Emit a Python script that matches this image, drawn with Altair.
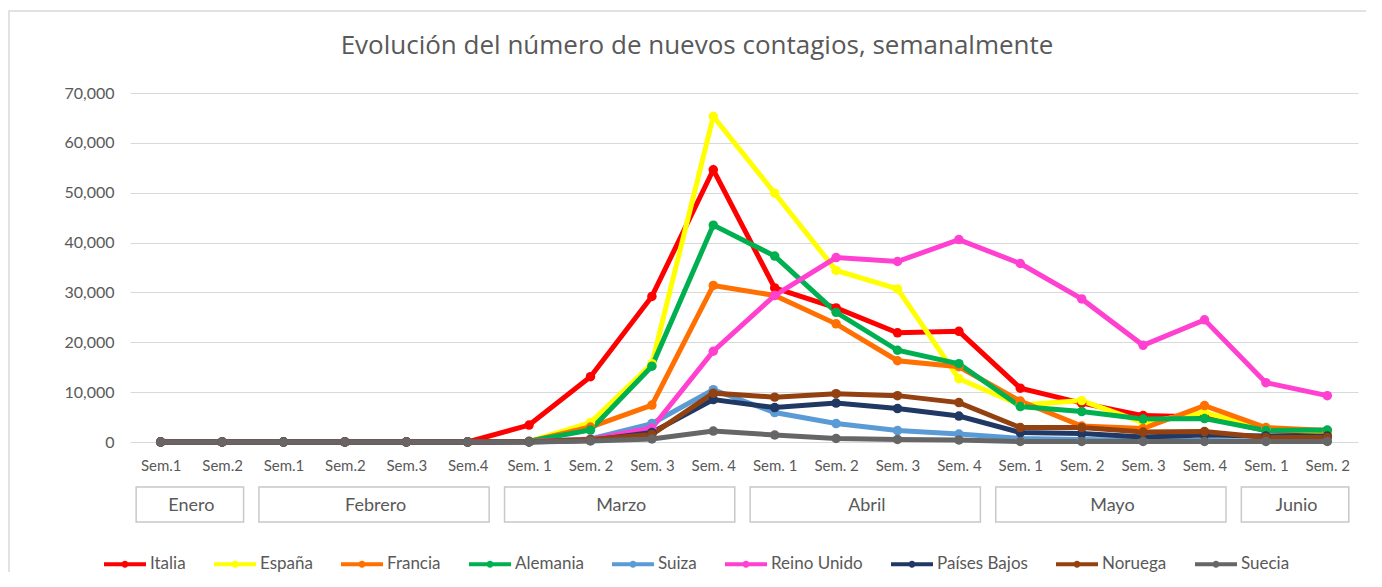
import json
import altair as alt
import pandas as pd

# ---------------- data ----------------
title_text = "Evolución del número de nuevos contagios, semanalmente"

week_labels = ["Sem.1", "Sem.2",
               "Sem.1", "Sem.2", "Sem.3", "Sem.4",
               "Sem. 1", "Sem. 2", "Sem. 3", "Sem. 4",
               "Sem. 1", "Sem. 2", "Sem. 3", "Sem. 4",
               "Sem. 1", "Sem. 2", "Sem. 3", "Sem. 4",
               "Sem. 1", "Sem. 2"]

months = ["Enero", "Febrero", "Marzo", "Abril", "Mayo", "Junio"]
month_first = [0, 2, 6, 10, 14, 18]
month_last = [1, 5, 9, 13, 17, 19]

countries = ["Italia", "España", "Francia", "Alemania", "Suiza",
             "Reino Unido", "Países Bajos", "Noruega", "Suecia"]
colors = ["#FF0000", "#FFFF00", "#FF7000", "#00B050", "#5B9BD5",
          "#FF40D0", "#203864", "#934110", "#666666"]

italia = [0, 0, 0, 0, 0, 20, 3400, 13100, 29200, 54600, 30900, 26900, 21900, 22200, 10800, 7800, 5300, 5000, 2300, 1900]
espana = [0, 0, 0, 0, 0, 0, 100, 3900, 15700, 65300, 49900, 34400, 30700, 12700, 7400, 8300, 3900, 5900, 2600, 2000]
francia = [0, 0, 0, 0, 0, 0, 100, 3000, 7400, 31400, 29400, 23700, 16300, 15100, 8200, 3200, 2700, 7300, 2900, 2300]
alemania = [0, 0, 0, 0, 0, 0, 150, 2400, 15200, 43500, 37300, 26000, 18400, 15700, 7100, 6100, 4600, 4700, 2300, 2400]
suiza = [0, 0, 0, 0, 0, 0, 50, 600, 3700, 10500, 5900, 3700, 2300, 1600, 700, 500, 300, 300, 200, 200]
reino_unido = [0, 0, 0, 0, 0, 0, 100, 500, 2800, 18200, 29400, 37000, 36200, 40600, 35800, 28700, 19400, 24500, 11900, 9300]
paises_bajos = [0, 0, 0, 0, 0, 0, 20, 300, 1900, 8500, 6900, 7800, 6700, 5200, 1900, 1700, 1000, 1400, 1200, 1200]
noruega = [0, 0, 0, 0, 0, 0, 50, 500, 1500, 9800, 9000, 9700, 9300, 7900, 2900, 2900, 2000, 2100, 900, 900]
suecia = [0, 0, 0, 0, 0, 0, 0, 200, 600, 2200, 1400, 700, 500, 400, 100, 100, 100, 100, 100, 100]

series = [italia, espana, francia, alemania, suiza,
          reino_unido, paises_bajos, noruega, suecia]

rows = []
for c, vals in zip(countries, series):
    for i, v in enumerate(vals):
        rows.append({"pais": c, "idx": i, "value": v})
df = pd.DataFrame(rows)

mdf = pd.DataFrame({"mes": months, "first": month_first, "last": month_last})

# ---------------- styling ----------------
FONT = "Lato"
TXT = "#595959"
W, H = 1228, 349

xscale = alt.Scale(domain=[-0.5, 19.5], nice=False, zero=False)
label_expr = json.dumps(week_labels, ensure_ascii=False) + "[datum.value]"
xaxis = alt.Axis(values=list(range(20)),
                 labelExpr=label_expr,
                 grid=False, ticks=False, domain=False, title=None,
                 labelFont=FONT, labelFontSize=15, labelColor=TXT,
                 labelPadding=16, labelFlush=False, labelOverlap=False)
yaxis = alt.Axis(values=list(range(0, 70001, 10000)), format=",.0f",
                 grid=True, gridColor="#d9d9d9", gridWidth=1,
                 ticks=False, domain=False, title=None,
                 labelFont=FONT, labelFontSize=16, labelColor=TXT,
                 labelPadding=16)

legend_path = ("M-1,0L1,0M0.07,0A0.07,0.07,0,1,1,-0.07,0"
               "A0.07,0.07,0,1,1,0.07,0Z")

color = alt.Color("pais:N",
                  scale=alt.Scale(domain=countries, range=colors),
                  sort=countries,
                  legend=alt.Legend(orient="none", legendX=-28, legendY=448,
                                    direction="horizontal", columns=9,
                                    title=None, symbolType=legend_path,
                                    symbolSize=1764, symbolStrokeWidth=4,
                                    labelFont=FONT, labelFontSize=17,
                                    labelColor=TXT, labelOffset=2,
                                    columnPadding=20, padding=0))

xenc = alt.X("idx:Q", scale=xscale, axis=xaxis)
yenc = alt.Y("value:Q", scale=alt.Scale(domain=[0, 70000], nice=False), axis=yaxis)

one = pd.DataFrame({"t": [title_text]})

# decorative outer frame of the chart (top and left edges visible)
frame = alt.Chart(one).mark_rect(
    fill="transparent", stroke="#d9d9d9", strokeWidth=1.5
).encode(x=alt.value(-121), x2=alt.value(1400), y=alt.value(-82), y2=alt.value(700))

# chart title, centred on the whole chart
title = alt.Chart(one).mark_text(
    font="Open Sans", fontSize=26, color=TXT, align="center", baseline="middle"
).encode(x=alt.value(567), y=alt.value(-47), text="t:N")

lines = alt.Chart(df).mark_line(strokeWidth=5).encode(x=xenc, y=yenc, color=color)
points = alt.Chart(df).mark_point(filled=True, size=90, opacity=1).encode(
    x=xenc, y=yenc, color=color)

mbase = alt.Chart(mdf).transform_calculate(
    x0="datum.first - 0.4", x1="datum.last + 0.35", xc="(datum.first + datum.last) / 2"
)
boxes = mbase.mark_rect(fill="white", stroke="#c8c8c8", strokeWidth=1.5).encode(
    x=alt.X("x0:Q", scale=xscale, axis=xaxis),
    x2="x1:Q",
    y=alt.value(394),
    y2=alt.value(429),
)
mtext = mbase.mark_text(font=FONT, fontSize=18, color=TXT, baseline="middle").encode(
    x=alt.X("xc:Q", scale=xscale, axis=xaxis),
    y=alt.value(413),
    text="mes:N",
)

chart = alt.layer(frame, title, lines, points, boxes, mtext).properties(
    width=W, height=H,
    autosize=alt.AutoSizeParams(type="none"),
    padding={"left": 122, "top": 85, "right": 8, "bottom": 130},
).configure_view(strokeWidth=0, stroke="transparent")

chart.save("out.html", embed_options={"renderer": "svg", "actions": False})
